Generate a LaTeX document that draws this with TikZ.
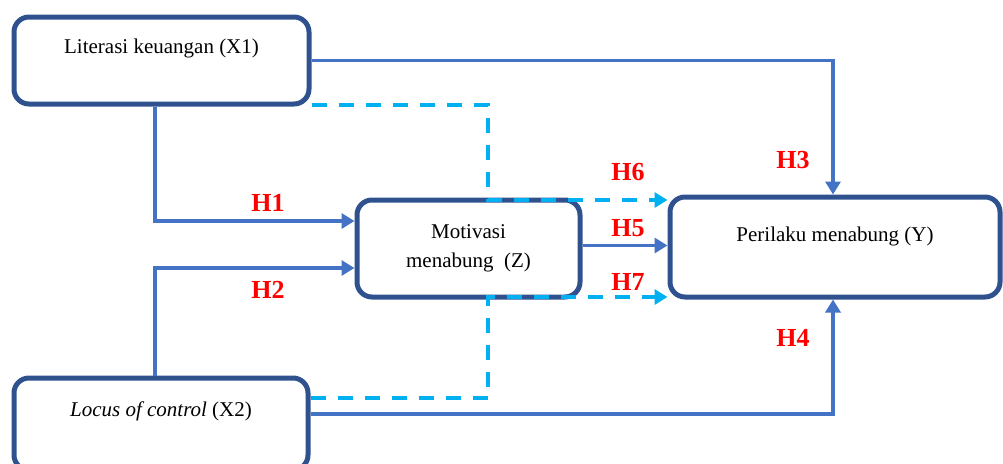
\documentclass[tikz,border=0pt]{standalone}
\usepackage{fontspec}
\setmainfont{Liberation Serif}
\usetikzlibrary{arrows.meta,calc}
\definecolor{boxblue}{HTML}{2F528F}
\definecolor{lineblue}{HTML}{4472C4}
\definecolor{dashblue}{HTML}{00B0F0}
\definecolor{hred}{HTML}{FF0000}
\tikzset{
  varbox/.style={draw=boxblue, line width=5pt, rounded corners=15pt, fill=white, inner sep=0pt,
    font=\fontsize{21}{29}\selectfont},
  conn/.style={draw=lineblue, line width=3.5pt, -{Triangle[length=13pt,width=15pt]}},
  dconn/.style={draw=dashblue, line width=3.5pt, dash pattern=on 15pt off 12pt, -{Triangle[length=13pt,width=15pt]}},
  hlab/.style={text=hred, font=\bfseries\fontsize{26}{30}\selectfont, inner sep=0pt}
}
\begin{document}
\begin{tikzpicture}[x=1pt,y=-1pt]
\useasboundingbox (0,0) rectangle (1003,463);
\clip (0,0) rectangle (1003,463);
% boxes
\node[varbox, minimum width=295pt, minimum height=87pt, text height=10pt, text depth=24.4pt] (X1) at (161.5,60.5) {Literasi keuangan (X1)};
\node[varbox, minimum width=294pt, minimum height=92pt, text height=10pt, text depth=24.6pt] (X2) at (161,424) {\textit{Locus of control} (X2)};
\node[varbox, minimum width=223pt, minimum height=97pt, align=center] (Z) at (468.5,248.5) {Motivasi\\menabung~~(Z)};
\node[varbox, minimum width=330pt, minimum height=100pt, text height=10pt, text depth=20.6pt] (Y) at (835,247) {Perilaku menabung (Y)};
% helper coordinates
\coordinate (dx) at (488,0);
\coordinate (ztop) at ($(Z.north)+(0,2.5)$);
\coordinate (zbot) at ($(Z.south)+(0,-2.5)$);
% solid connectors
\draw[conn] ([xshift=-6.5pt]X1.south) |- ([yshift=27.5pt]Z.west);
\draw[conn] ([xshift=-6pt]X2.north) |- ([yshift=-19.5pt]Z.west);
\draw[conn] (X1.east) -| ([xshift=-2pt]Y.north);
\draw[conn] ([yshift=10pt]X2.east) -| ([xshift=-2pt]Y.south);
\draw[conn] ([yshift=3pt]Z.east) -- ($(Y.west)+(0,-1.5)$);
% dashed connectors
\draw[dconn] ([yshift=1.5pt]X1.south east) -| (ztop -| dx) -- (ztop -| Y.west);
\draw[dconn] ([yshift=26pt]X2.east) -| (zbot -| dx) -- (zbot -| Y.west);
% labels
\node[hlab] (H1) at (268,203) {H1};
\node[hlab] (H2) at (268,290) {H2};
\node[hlab] (H3) at (793,160) {H3};
\node[hlab] (H4) at (793,338) {H4};
\node[hlab] (H5) at (628,228) {H5};
\node[hlab] (H6) at (628,172) {H6};
\node[hlab] (H7) at (628,282) {H7};
\end{tikzpicture}
\end{document}
